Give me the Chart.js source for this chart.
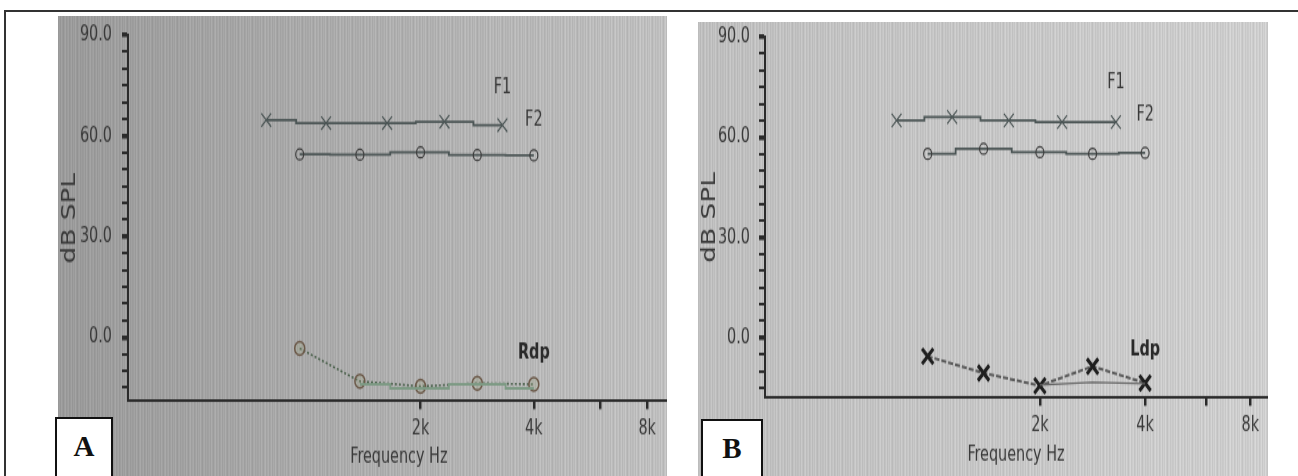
<!DOCTYPE html>
<html>
<head>
<meta charset="utf-8">
<script src="https://cdn.jsdelivr.net/npm/chart.js@4.4.1/dist/chart.umd.min.js"></script>
<style>
  html, body { margin: 0; padding: 0; background: #fff; }
  body { width: 1298px; height: 476px; position: relative; overflow: hidden; }
  #frame { position: absolute; left: 4px; top: 10px; right: 0; bottom: -4px;
           border-top: 2px solid #333; border-left: 2px solid #333; }
  .photo { position: absolute; overflow: hidden; }
  .inner { position: absolute; left: 0; top: 0; transform-origin: 0 0; }
  .tag { position: absolute; background: #fff; border: 2px solid #111;
         font: bold 29px "Liberation Serif", "Times New Roman", serif; color: #111;
         display: flex; align-items: center; justify-content: center; box-sizing: border-box; }
</style>
</head>
<body>
<div id="frame"></div>
<div class="photo" style="left:58px;top:16px;width:609px;height:460px">
  <div class="inner" id="innerA"><canvas id="chartA"></canvas></div>
</div>
<div class="photo" style="left:698px;top:22px;width:570px;height:454px">
  <div class="inner" id="innerB"><canvas id="chartB"></canvas></div>
</div>
<div class="tag" style="left:55px;top:417px;width:58px;height:64px;padding-bottom:6px">A</div>
<div class="tag" style="left:701px;top:419px;width:62px;height:64px;padding-bottom:6px">B</div>

<script>
// frecuencias (Hz)
const f1Freq = [778, 1122, 1630, 2315, 3300];
const f2Freq = [955, 1380, 2000, 2830, 4000];

// panel A (oido derecho)
const f1LevelA = [64.7, 63.8, 63.8, 64.2, 63.2];
const f2LevelA = [54.5, 54.4, 55.1, 54.3, 54.2];
const dpLevelA = [-3.3, -13.1, -14.6, -13.7, -14.0];
const noiseA = [null, -14.0, -15.2, -14.0, -15.2];

// panel B (oido izquierdo)
const f1LevelB = [65.0, 66.0, 65.0, 64.5, 64.5];
const f2LevelB = [55.0, 56.5, 55.5, 55.0, 55.3];
const dpLevelB = [-5.6, -10.6, -14.4, -8.6, -13.6];
const noiseB = [null, null, -14.2, -13.4, -13.8];

// ejes
const xTickValues = [2000, 4000, 6000, 8000];
const xTickLabels = ['2k', '4k', '', '8k'];
const yTickValues = [-15, -10, -5, 0, 5, 10, 15, 20, 25, 30, 35, 40, 45, 50, 55, 60, 65, 70, 75, 80, 85, 90];
const yLabelValues = [0, 30, 60, 90];

const S = 1.35; // la foto esta estirada en vertical
const narrow = '"DejaVu Sans Condensed", "Liberation Sans Narrow", sans-serif';
const ink = '#3a3a3a';

const shades = [0, 8, -4, 12, 2, -7, 6, 14, -3, 4, 10, -6, 1, 11, -5, 7, -1, 13, 0, -8, 5, 9, -4, 5, -2];

const photoBg = {
  id: 'photoBg',
  beforeDraw(chart, args, opts) {
    const ctx = chart.ctx;
    const pc = document.createElement('canvas');
    pc.width = shades.length; pc.height = 1;
    const pctx = pc.getContext('2d');
    shades.forEach((d, i) => {
      const v = Math.max(0, Math.min(255, opts.base + d));
      pctx.fillStyle = 'rgb(' + v + ',' + v + ',' + v + ')';
      pctx.fillRect(i, 0, 1, 1);
    });
    ctx.save();
    ctx.fillStyle = ctx.createPattern(pc, 'repeat');
    ctx.fillRect(0, 0, chart.width, chart.height);
    const g = ctx.createLinearGradient(0, 0, chart.width, 0);
    g.addColorStop(0, 'rgba(0,0,0,' + opts.dark + ')');
    g.addColorStop(1, 'rgba(0,0,0,0)');
    ctx.fillStyle = g;
    ctx.fillRect(0, 0, chart.width, chart.height);
    ctx.restore();
  }
};

const endLabels = {
  id: 'endLabels',
  afterDatasetsDraw(chart) {
    const ctx = chart.ctx;
    chart.data.datasets.forEach((ds, i) => {
      if (!ds.endLabel) return;
      const meta = chart.getDatasetMeta(i);
      const pt = meta.data[meta.data.length - 1];
      ctx.save();
      ctx.font = (ds.endBold ? 'bold ' : '') + '16px ' + narrow;
      ctx.fillStyle = ds.endBold ? '#2a2a2a' : ink;
      ctx.textAlign = 'center';
      ctx.textBaseline = 'middle';
      ctx.fillText(ds.endLabel, pt.x, pt.y - ds.endDy);
      ctx.restore();
    });
  }
};

function pts(freq, lvl) {
  return freq.map((f, i) => ({ x: f, y: lvl[i] }));
}

function makeChart(id, innerId, geo, datasets) {
  const inner = document.getElementById(innerId);
  inner.style.width = geo.w + 'px';
  inner.style.height = (geo.h / S) + 'px';
  inner.style.transform = 'scaleY(' + S + ')';
  const axisFont = { family: narrow, size: 16 };
  return new Chart(document.getElementById(id), {
    type: 'line',
    data: { datasets: datasets },
    options: {
      responsive: true,
      maintainAspectRatio: false,
      animation: false,
      layout: { padding: { top: geo.padTop, left: 0, right: 0, bottom: 0 } },
      plugins: {
        legend: { display: false },
        tooltip: { enabled: false },
        photoBg: { base: geo.base, dark: geo.dark }
      },
      scales: {
        x: {
          type: 'logarithmic',
          min: geo.xMin,
          max: geo.xMax,
          afterBuildTicks: s => { s.ticks = xTickValues.map(v => ({ value: v })); },
          afterFit: s => { s.height = geo.xAxisH; s.paddingLeft = 0; s.paddingRight = 0; },
          ticks: {
            autoSkip: false, maxRotation: 0, padding: geo.xTickPad,
            font: axisFont, color: ink,
            callback: (v, i) => xTickLabels[i]
          },
          grid: { drawOnChartArea: false, tickLength: 6, lineWidth: 2.5, color: '#2b2b2b' },
          border: { color: '#2b2b2b', width: 2 },
          title: {
            display: true, text: 'Frequency Hz', color: ink,
            font: { family: narrow, size: 16 },
            padding: { top: 0, bottom: geo.titlePadB }
          }
        },
        y: {
          min: geo.yMin,
          max: 90,
          afterBuildTicks: s => { s.ticks = yTickValues.map(v => ({ value: v })); },
          afterFit: s => { s.width = geo.yAxisW; s.paddingTop = 0; s.paddingBottom = 0; },
          ticks: {
            autoSkip: false, padding: geo.yTickPad, font: axisFont, color: ink,
            callback: v => yLabelValues.includes(v) ? v.toFixed(1) : ''
          },
          grid: {
            drawOnChartArea: false, tickLength: 6, color: '#2b2b2b',
            lineWidth: c => (c.tick && yLabelValues.includes(c.tick.value)) ? 3.5 : 2
          },
          border: { color: '#2b2b2b', width: 2 },
          title: {
            display: true, text: 'dB SPL', color: ink,
            font: { family: '"DejaVu Sans", sans-serif', size: 19.5 },
            padding: { top: 0, bottom: 0 }
          }
        }
      }
    },
    plugins: [photoBg, endLabels]
  });
}

const fLine = {
  borderColor: '#4c5656', borderWidth: 1.8, stepped: 'middle',
  backgroundColor: 'transparent', pointBackgroundColor: 'transparent'
};

// Grafico A
makeChart('chartA', 'innerA', {
  w: 620, h: 460, padTop: 14.1, xAxisH: 56.3, xTickPad: 4.5, titlePadB: 5,
  yAxisW: 70, yTickPad: 10, xMin: 334, xMax: 9190, yMin: -19, base: 190, dark: 0.2
}, [
  Object.assign({}, fLine, {
    label: 'F1', data: pts(f1Freq, f1LevelA), pointStyle: 'crossRot', pointRadius: 7,
    pointBorderColor: '#4c5656', pointBorderWidth: 1.2, endLabel: 'F1', endDy: 28
  }),
  Object.assign({}, fLine, {
    label: 'F2', data: pts(f2Freq, f2LevelA), pointStyle: 'circle', pointRadius: 4,
    pointBorderColor: '#3e3e3e', pointBorderWidth: 1.2, endLabel: 'F2', endDy: 26
  }),
  {
    label: 'Noise', data: pts(f2Freq, noiseA), stepped: 'middle',
    borderColor: '#7d9a84', borderWidth: 1.8, pointRadius: 0, backgroundColor: 'transparent'
  },
  {
    label: 'Rdp', data: pts(f2Freq, dpLevelA), borderColor: '#4f6450', borderWidth: 1.6,
    borderDash: [2, 2], pointStyle: 'circle', pointRadius: 5, pointBorderColor: '#6b5848',
    pointBorderWidth: 1.5, pointBackgroundColor: 'rgba(150,160,120,0.25)',
    backgroundColor: 'transparent', endLabel: 'Rdp', endDy: 23, endBold: true
  }
]);

// Grafico B
makeChart('chartB', 'innerB', {
  w: 580, h: 454, padTop: 8.6, xAxisH: 58, xTickPad: 4.5, titlePadB: 5.5,
  yAxisW: 67, yTickPad: 9, xMin: 327, xMax: 8930, yMin: -18, base: 204, dark: 0.08
}, [
  Object.assign({}, fLine, {
    label: 'F1', data: pts(f1Freq, f1LevelB), pointStyle: 'crossRot', pointRadius: 7,
    pointBorderColor: '#4c5656', pointBorderWidth: 1.2, endLabel: 'F1', endDy: 29
  }),
  Object.assign({}, fLine, {
    label: 'F2', data: pts(f2Freq, f2LevelB), pointStyle: 'circle', pointRadius: 4,
    pointBorderColor: '#3e3e3e', pointBorderWidth: 1.2, endLabel: 'F2', endDy: 28
  }),
  {
    label: 'Noise', data: pts(f2Freq, noiseB), borderColor: '#666', borderWidth: 1.2,
    pointRadius: 0, backgroundColor: 'transparent'
  },
  {
    label: 'Ldp', data: pts(f2Freq, dpLevelB), borderColor: '#5a5a5a', borderWidth: 2,
    borderDash: [5, 2], pointStyle: 'crossRot', pointRadius: 8, pointBorderColor: '#1f1f1f',
    pointBorderWidth: 3, backgroundColor: 'transparent', endLabel: 'Ldp', endDy: 25, endBold: true
  }
]);
</script>
</body>
</html>
